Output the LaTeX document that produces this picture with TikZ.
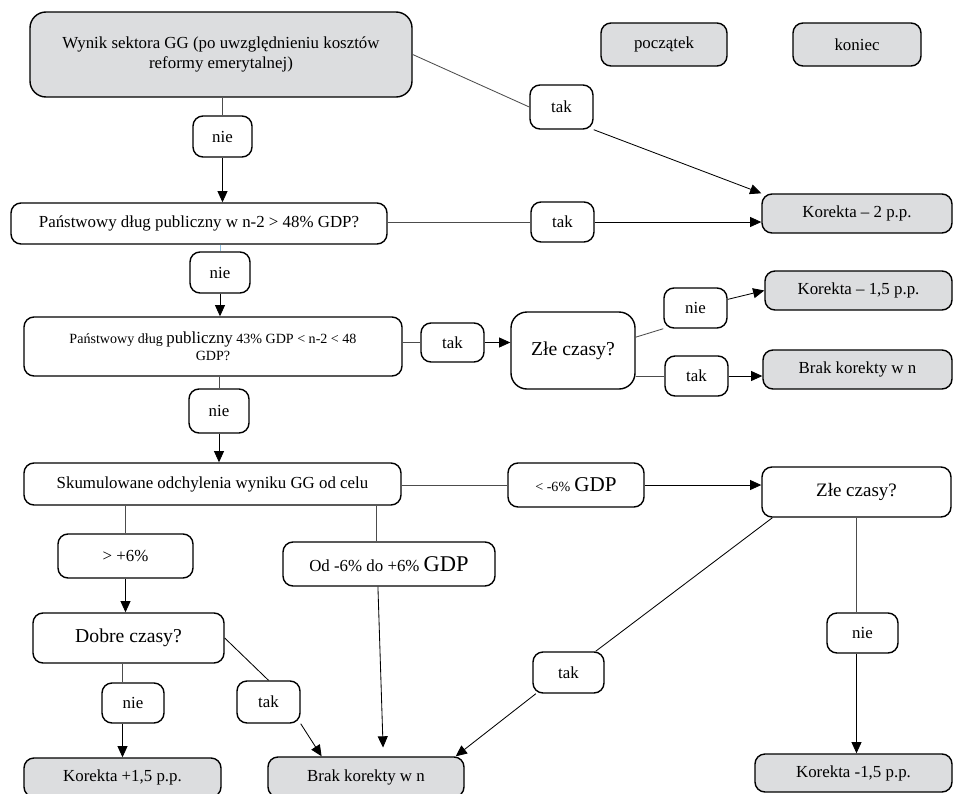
\documentclass[tikz,border=0pt]{standalone}
\usepackage{fontspec}
\setmainfont{Liberation Serif}
\usepackage{tikz}
\usetikzlibrary{arrows.meta,calc}
\definecolor{boxgray}{HTML}{DCDDDF}
\definecolor{tiecol}{HTML}{8DBFE0}
\tikzset{
	blk/.style={draw, rounded corners=2.5mm, line width=1pt, inner sep=1pt,
		align=center, font=\fontsize{12}{14}\selectfont},
	endp/.style={blk, fill=boxgray},
	lbl/.style={blk, minimum width=15.75mm, minimum height=10.25mm},
	lnk/.style={line width=0.6pt, black!70},
	arr/.style={line width=0.6pt, -{Triangle[length=2.8mm, width=2.5mm]}},
}

\begin{document}
\begin{tikzpicture}[x=0.25mm, y=-0.25mm]
\useasboundingbox (0,0) rectangle (954,793);
% top row
\node[endp, rounded corners=4mm, minimum width=95.5mm, minimum height=21.25mm] (start) at (221,54.5) {Wynik sektora GG (po uwzględnieniu kosztów\\reformy emerytalnej)};
\node[endp, minimum width=31.5mm, minimum height=10.75mm] (pocz) at (664,44.5) {początek};
\node[endp, minimum width=32mm, minimum height=10.75mm] (kon) at (857,44.5) {koniec};
\node[lbl, minimum height=11mm] (tak1) at (561.5,107) {tak};
\node[lbl, minimum width=14.75mm] (nie1) at (222.5,136.5) {nie};
% debt above 48%
\node[blk, minimum width=94mm, minimum height=10.25mm] (dlug1) at (199,223.5) {Państwowy dług publiczny w n-2 > 48\% GDP?};
\node[lbl, minimum height=10mm] (tak2) at (562.5,222) {tak};
\node[endp, minimum width=47.5mm, minimum height=9.75mm] (kor2) at (857,213.5) {Korekta – 2 p.p.};
\node[lbl, minimum width=15mm] (nie2) at (220,272.5) {nie};
% debt between 43% and 48%
\node[blk, minimum width=94.5mm, minimum height=14.75mm, font=\fontsize{10}{12}\selectfont] (dlug2) at (213,346.5) {Państwowy dług {\fontsize{12}{12}\selectfont publiczny} 43\% GDP < n-2 < 48\\GDP?};
\node[lbl, minimum height=9.75mm] (tak3) at (452.5,342.5) {tak};
\node[blk, rounded corners=4mm, minimum width=31mm, minimum height=19.25mm, font=\fontsize{14}{16}\selectfont] (zle1) at (573,350.5) {Złe czasy?};
\node[lbl, minimum height=10mm] (nie3) at (695.5,308) {nie};
\node[lbl, minimum height=10mm] (tak4) at (696.5,376) {tak};
\node[endp, minimum width=46.75mm, minimum height=9.75mm] (kor15) at (858.5,290.5) {Korekta – 1,5 p.p.};
\node[endp, minimum width=47.25mm, minimum height=9.75mm] (brak1) at (857.5,369.5) {Brak korekty w n};
\node[lbl, minimum width=15mm, minimum height=11mm] (nie4) at (219,411) {nie};
% cumulated deviations
\node[blk, minimum width=94.25mm, minimum height=10.5mm] (skum) at (212.5,484) {Skumulowane odchylenia wyniku GG od celu};
\node[blk, minimum width=34mm, minimum height=11mm] (lt6) at (576,485) {{\fontsize{10}{12}\selectfont < -6\%} {\fontsize{15}{15}\selectfont GDP}};
\node[blk, minimum width=47.25mm, minimum height=12.5mm, font=\fontsize{13.5}{16}\selectfont] (zle2) at (856.5,492) {Złe czasy?};
\node[blk, minimum width=33.75mm, minimum height=11mm] (gt6) at (125.5,556) {> +6\%};
\node[blk, minimum width=53mm, minimum height=11mm] (od6) at (389,564) {Od -6\% do +6\% {\fontsize{16}{16}\selectfont GDP}};
\node[blk, minimum width=47.75mm, minimum height=12.5mm, font=\fontsize{14}{16}\selectfont] (dobre) at (128.5,638) {Dobre czasy?};
\node[lbl, minimum width=15.5mm, minimum height=10mm] (nie5) at (133,703) {nie};
\node[lbl, minimum height=10.5mm] (tak5) at (268.5,702) {tak};
\node[lbl, minimum width=17.75mm] (tak6) at (568.5,672.5) {tak};
\node[lbl, minimum width=17.75mm, minimum height=10mm] (nie6) at (862.5,633) {nie};
% bottom row
\node[endp, minimum width=49.25mm, minimum height=9.75mm] (kp15) at (122.5,777.5) {Korekta +1,5 p.p.};
\node[endp, minimum width=49mm, minimum height=10mm] (brak2) at (366,777) {Brak korekty w n};
\node[endp, minimum width=49.25mm, minimum height=9.5mm] (km15) at (853.5,773) {Korekta -1,5 p.p.};

% connectors
\draw[lnk] (start.east) -- (tak1.west);
\draw[arr] (tak1.south east) -- (kor2.north west);
\draw[lnk] (start.south -| nie1) -- (nie1.north);
\draw[arr] (nie1.south) -- (nie1.south |- dlug1.north);
\draw[lnk] (dlug1.east |- tak2.west) -- (tak2.west);
\draw[arr] (tak2.east) -- (tak2.east -| kor2.west);
\draw[line width=0.6pt, tiecol] (dlug1.south -| nie2) -- (nie2.north);
\draw[arr] (nie2.south) -- (nie2.south |- dlug2.north);
\draw[lnk] (dlug2.east |- tak3.west) -- (tak3.west);
\draw[arr] (tak3.east) -- (tak3.east -| zle1.west);
\draw[lnk] (zle1.12) -- (nie3.south west);
\draw[arr] (nie3.15) -- (kor15.west);
\draw[lnk] (zle1.east |- tak4.west) -- (tak4.west);
\draw[arr] (tak4.east) -- (tak4.east -| brak1.west);
\draw[lnk] (dlug2.south -| nie4) -- (nie4.north);
\draw[arr] (nie4.south) -- (nie4.south |- skum.north);
\draw[lnk] (skum.east |- lt6.west) -- (lt6.west);
\draw[arr] (lt6.east) -- (lt6.east -| zle2.west);
\draw[lnk] (skum.south -| gt6) -- (gt6.north);
\draw[arr] (gt6.south) -- (gt6.south |- dobre.north);
\draw[lnk] (od6.119 |- skum.south) -- (od6.119);
\draw[arr, shorten >=2.2mm] (od6.-116) -- (brak2.50);
\draw[lnk] (dobre.south -| kp15) -- (nie5.north -| kp15);
\draw[arr] (nie5.south -| kp15) -- (kp15.north);
\draw[line width=0.6pt] (dobre.east) -- (tak5.north);
\draw[arr] (tak5.south east) -- (brak2.155);
\draw[line width=0.6pt] (zle2.197) -- (tak6.38);
\draw[arr] (tak6.213) -- (brak2.13);
\draw[lnk] (zle2.south) -- (zle2.south |- nie6.north);
\draw[arr] (zle2.south |- nie6.south) -- (zle2.south |- km15.north);
\end{tikzpicture}
\end{document}
